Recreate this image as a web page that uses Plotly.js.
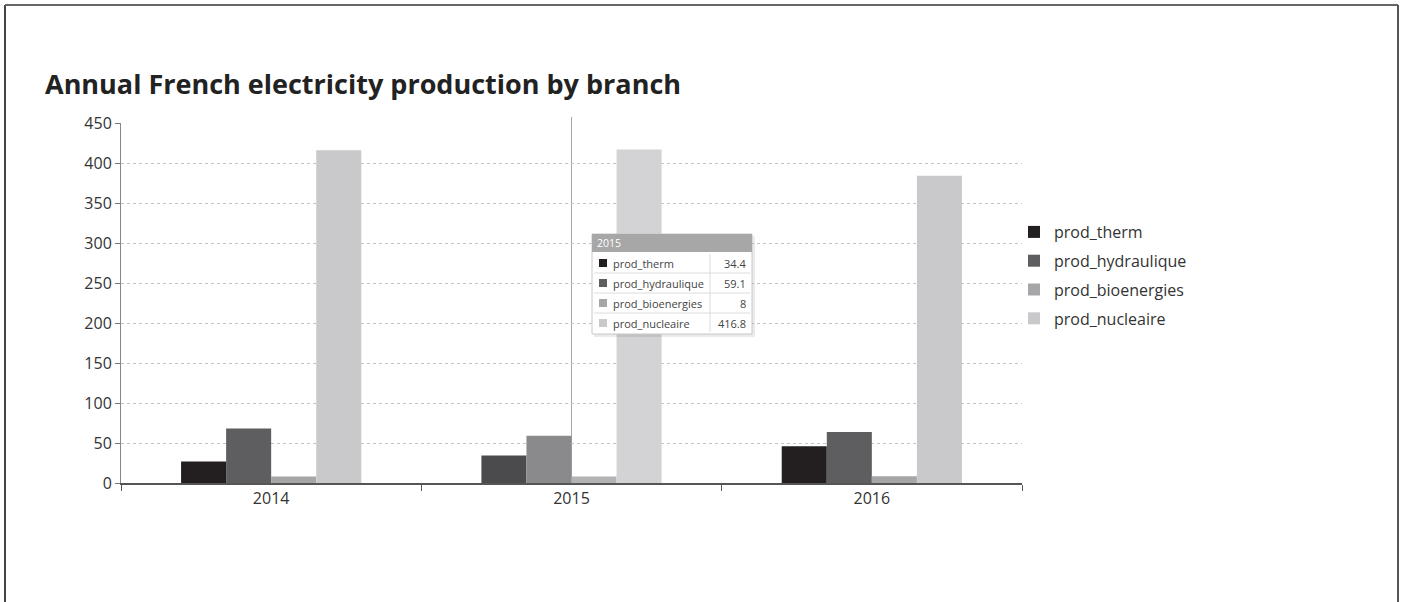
<!DOCTYPE html>
<html>
<head>
<meta charset="utf-8">
<script src="https://cdn.plot.ly/plotly-3.0.1.min.js"></script>
<style>
html,body{margin:0;padding:0;background:#fff;}
#chart{width:1407px;height:602px;}
</style>
</head>
<body>
<div id="chart"></div>
<script>
// ---- data ----
const years = ['2014', '2015', '2016'];
const seriesNames = ['prod_therm', 'prod_hydraulique', 'prod_bioenergies', 'prod_nucleaire'];
const prodTherm = [27.0, 34.4, 45.9];
const prodHydraulique = [68.2, 59.1, 63.9];
const prodBioenergies = [8.0, 8.0, 8.5];
const prodNucleaire = [415.9, 416.8, 384.0];
const yTicks = [0, 50, 100, 150, 200, 250, 300, 350, 400, 450];
const hoveredIndex = 1;

// ---- styles ----
const baseColors = ['#231f20', '#5e5e60', '#a6a6a8', '#c9c9cb'];
const hoverColors = ['#4b4b4d', '#8a8a8c', '#b3b3b5', '#d3d3d5'];
const fontFam = '"Open Sans", "Noto Sans", sans-serif';

const values = [prodTherm, prodHydraulique, prodBioenergies, prodNucleaire];
const traces = values.map((v, i) => ({
  type: 'bar',
  name: seriesNames[i],
  x: years,
  y: v,
  legendgroup: 'g' + i,
  marker: {
    color: years.map((_, k) => k === hoveredIndex ? hoverColors[i] : baseColors[i]),
    line: {width: 0}
  },
  hoverinfo: 'none'
}));

// plot area in pixels
const L = 121, R = 1022, T = 123, B = 483;
const px = x => (x - L) / (R - L);
const py = y => (B - y) / (B - T);

const shapes = [];
const annotations = [];

// outer frame
shapes.push({type: 'line', xref: 'paper', yref: 'paper', x0: px(5), x1: px(5), y0: py(5), y1: py(602), line: {color: '#444', width: 2}});
shapes.push({type: 'line', xref: 'paper', yref: 'paper', x0: px(5), x1: px(1398), y0: py(5), y1: py(5), line: {color: '#666', width: 2}});
shapes.push({type: 'line', xref: 'paper', yref: 'paper', x0: px(1398), x1: px(1398), y0: py(5), y1: py(602), line: {color: '#555', width: 2}});

// crosshair at hovered category (category index on the x axis)
shapes.push({type: 'line', xref: 'x', yref: 'paper', x0: hoveredIndex, x1: hoveredIndex, y0: 0, y1: py(117), line: {color: '#a8a8a8', width: 1}, layer: 'below'});

// tooltip box
const tx0 = 592, tx1 = 752, ty0 = 234, headH = 18, rowH = 20, colX = 710;
const ty1 = ty0 + headH + rowH * 4 + 2;
shapes.push({type: 'rect', xref: 'paper', yref: 'paper', x0: px(tx0 + 2), x1: px(tx1 + 3), y0: py(ty0 + 2), y1: py(ty1 + 3), fillcolor: 'rgba(0,0,0,0.08)', line: {width: 0}});
shapes.push({type: 'rect', xref: 'paper', yref: 'paper', x0: px(tx0), x1: px(tx1), y0: py(ty0), y1: py(ty1), fillcolor: '#ffffff', line: {color: '#c8c8c8', width: 1}});
shapes.push({type: 'rect', xref: 'paper', yref: 'paper', x0: px(tx0), x1: px(tx1), y0: py(ty0), y1: py(ty0 + headH), fillcolor: '#a7a7a7', line: {width: 0}});
annotations.push({xref: 'paper', yref: 'paper', x: px(tx0 + 3), y: py(ty0 + headH / 2), xanchor: 'left', yanchor: 'middle', text: years[hoveredIndex], showarrow: false, font: {family: fontFam, size: 10.5, color: '#ffffff'}});
for (let i = 0; i < 4; i++) {
  const r0 = ty0 + headH + 1 + i * rowH;
  const rc = r0 + rowH / 2;
  if (i > 0) shapes.push({type: 'line', xref: 'paper', yref: 'paper', x0: px(tx0 + 2), x1: px(tx1 - 2), y0: py(r0), y1: py(r0), line: {color: '#dcdcdc', width: 1}});
  shapes.push({type: 'rect', xref: 'paper', yref: 'paper', x0: px(599), x1: px(607), y0: py(rc - 4), y1: py(rc + 4), fillcolor: baseColors[i], line: {width: 0}});
  annotations.push({xref: 'paper', yref: 'paper', x: px(611), y: py(rc), xanchor: 'left', yanchor: 'middle', text: seriesNames[i], showarrow: false, font: {family: fontFam, size: 11, color: '#444'}});
  annotations.push({xref: 'paper', yref: 'paper', x: px(tx1 - 4), y: py(rc), xanchor: 'right', yanchor: 'middle', text: String(values[i][hoveredIndex]), showarrow: false, font: {family: fontFam, size: 11, color: '#444'}});
}
shapes.push({type: 'line', xref: 'paper', yref: 'paper', x0: px(colX), x1: px(colX), y0: py(ty0 + headH + 2), y1: py(ty1 - 2), line: {color: '#dcdcdc', width: 1}});

const layout = {
  width: 1407, height: 602,
  margin: {l: L, r: 1407 - R, t: T, b: 602 - B, pad: 0},
  paper_bgcolor: '#ffffff', plot_bgcolor: '#ffffff',
  font: {family: fontFam, color: '#333'},
  title: {
    text: '<b>Annual French electricity production by branch</b>',
    font: {family: fontFam, size: 27, color: '#222'},
    x: 45 / 1407, xanchor: 'left', xref: 'container',
    y: 1 - 85 / 602, yanchor: 'middle', yref: 'container'
  },
  barmode: 'group', bargap: 0.4, bargroupgap: 0,
  xaxis: {
    type: 'category', categoryorder: 'array', categoryarray: years, range: [-0.5, years.length - 0.5],
    tickson: 'boundaries', ticks: 'outside', ticklen: 6, tickcolor: '#555',
    showline: true, linecolor: '#555', linewidth: 1.5, showgrid: false, zeroline: false,
    tickfont: {family: fontFam, size: 16, color: '#333'}, fixedrange: true
  },
  yaxis: {
    range: [0, 450], tickvals: yTicks, ticktext: yTicks.map(String),
    ticks: 'outside', ticklen: 5, tickcolor: '#777', showline: true, linecolor: '#888', linewidth: 1,
    showgrid: true, gridcolor: '#c4c4c4', griddash: 'dot', gridwidth: 1, zeroline: false,
    tickfont: {family: fontFam, size: 16, color: '#333'}, fixedrange: true
  },
  legend: {
    x: px(1014), y: py(215), xanchor: 'left', yanchor: 'top',
    font: {family: fontFam, size: 16, color: '#333'},
    traceorder: 'grouped', tracegroupgap: 5, bgcolor: 'rgba(0,0,0,0)'
  },
  showlegend: true,
  shapes: shapes,
  annotations: annotations,
  hovermode: false
};

Plotly.newPlot('chart', traces, layout, {displayModeBar: false, staticPlot: true});
</script>
</body>
</html>
